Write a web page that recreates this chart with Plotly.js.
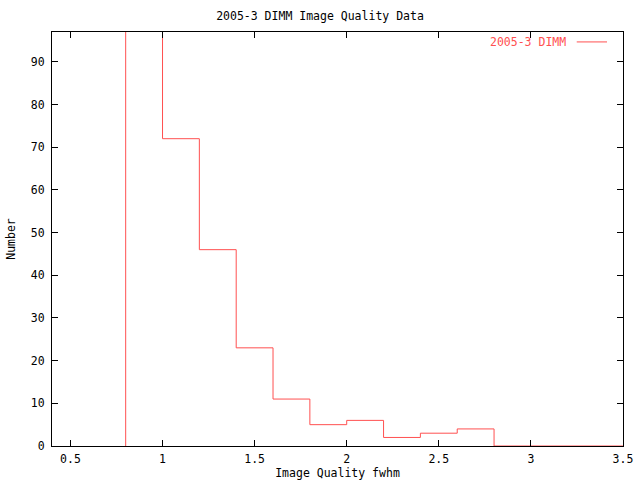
<!DOCTYPE html>
<html>
<head>
<meta charset="utf-8">
<script src="https://cdn.plot.ly/plotly-3.0.1.min.js"></script>
<style>html,body{margin:0;padding:0;background:#fff;}#chart{width:640px;height:480px;}</style>
</head>
<body>
<div id="chart"></div>
<script>
// Histogram bin left edges (fwhm) and counts per bin
const binEdges = [0.8, 0.8, 1.0, 1.2, 1.4, 1.6, 1.8, 2.0, 2.2, 2.4, 2.6, 2.8, 3.5];
const counts   = [0, 130, 72, 46, 23, 11, 5, 6, 2, 3, 4, 0, 0];
const seriesName = "2005-3 DIMM";
const xTicks = [0.5, 1, 1.5, 2, 2.5, 3, 3.5];
const xTickLabels = ["0.5", "1", "1.5", "2", "2.5", "3", "3.5"];
const yTicks = [0, 10, 20, 30, 40, 50, 60, 70, 80, 90];

const FONT = "DejaVu Sans Mono, Liberation Mono, monospace";
const RED = "rgb(255,80,80)";

const trace = {
  x: binEdges,
  y: counts,
  type: "scatter",
  mode: "lines",
  line: {shape: "hv", color: RED, width: 1},
  name: seriesName,
  showlegend: false,
  cliponaxis: true
};

const layout = {
  width: 640, height: 480,
  margin: {l: 52, r: 17, t: 32, b: 34, pad: 0},
  paper_bgcolor: "#fff", plot_bgcolor: "#fff",
  font: {family: FONT, size: 11.5, color: "#000"},
  title: {text: "2005-3 DIMM Image Quality Data", font: {family: FONT, size: 11.5, color: "#000"}, x: 0.5, xanchor: "center", y: 0.967, yanchor: "middle"},
  xaxis: {
    range: [0.4, 3.5], tickmode: "array", tickvals: xTicks, ticktext: xTickLabels,
    ticks: "inside", ticklen: 6, tickcolor: "#000", tickwidth: 1,
    showline: true, linecolor: "#000", linewidth: 1, mirror: "allticks",
    showgrid: false, zeroline: false, automargin: false,
    ticklabelstandoff: 2,
    title: {text: "Image Quality fwhm", font: {family: FONT, size: 11.5}, standoff: 1}
  },
  yaxis: {
    range: [0, 97], tickmode: "array", tickvals: yTicks,
    ticks: "inside", ticklen: 6, tickcolor: "#000", tickwidth: 1,
    showline: true, linecolor: "#000", linewidth: 1, mirror: "allticks",
    showgrid: false, zeroline: false, automargin: false,
    ticklabelstandoff: 4,
    title: {text: "Number", font: {family: FONT, size: 11.5}, standoff: 12}
  },
  annotations: [{
    xref: "paper", yref: "paper", x: 0.904, y: 0.976, xanchor: "right", yanchor: "middle",
    text: seriesName, showarrow: false, font: {family: FONT, size: 11.5, color: RED}
  }],
  shapes: [{
    type: "line", xref: "paper", yref: "paper", x0: 0.919, x1: 0.972, y0: 0.976, y1: 0.976,
    line: {color: RED, width: 1}
  }]
};

Plotly.newPlot("chart", [trace], layout, {staticPlot: true, displayModeBar: false});
</script>
</body>
</html>
